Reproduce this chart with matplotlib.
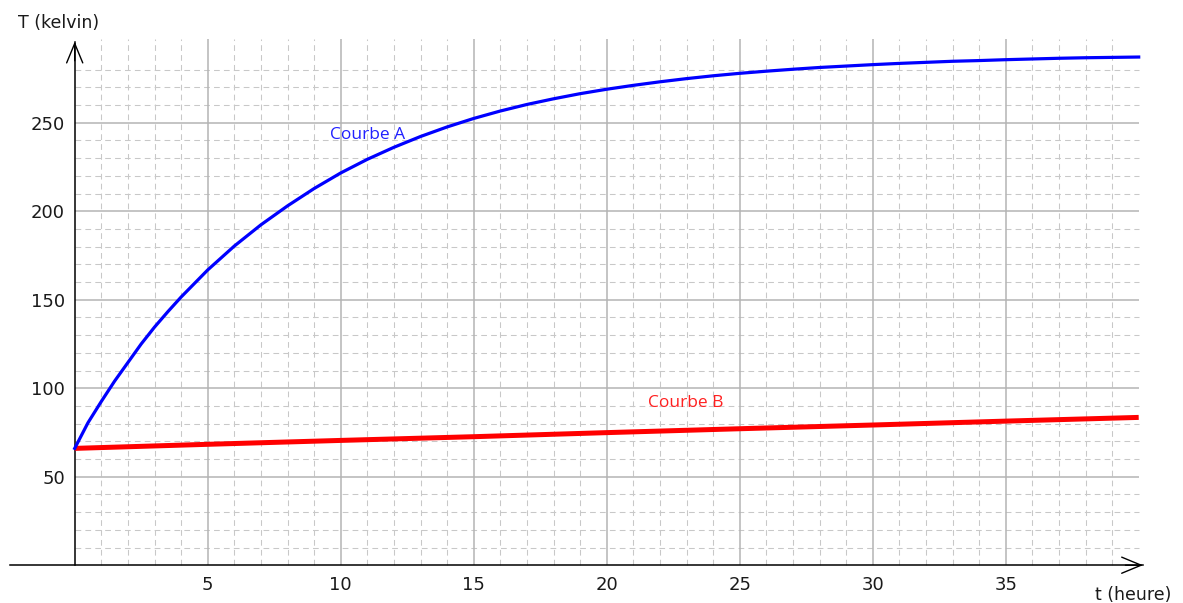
import numpy as np
import matplotlib
matplotlib.use("Agg")
import matplotlib.pyplot as plt

# temps (heure)
t_a = [0, 0.5, 1, 1.5, 2, 2.5, 3, 3.5] + list(range(4, 41))
# Courbe A : T (kelvin)
T_a = [66, 80.5, 92.5, 104, 114.5, 125, 134.5, 143.2,
       151.5, 166.8, 180.3, 192.3, 203, 212.8,
       221.6, 229.3, 236.1, 242.2, 247.6, 252.4, 256.6, 260.3, 263.5, 266.4,
       268.9, 271.1, 273.1, 274.9, 276.5, 277.9, 279.1, 280.2, 281.2, 282.0,
       282.8, 283.5, 284.1, 284.7, 285.1, 285.6, 286.0, 286.4, 286.7, 286.9,
       287.1]

# Courbe B
t_b = [0, 5, 10, 15, 20, 25, 30, 35, 40]
T_b = [66, 68.3, 70.5, 72.6, 74.9, 77.1, 79.2, 81.4, 83.5]

x_ticks = [5, 10, 15, 20, 25, 30, 35]
y_ticks = [50, 100, 150, 200, 250]

W, H = 1183, 603
fig = plt.figure(figsize=(W / 100, H / 100), dpi=100)
ax = fig.add_axes([0, 0, 1, 1])

# echelle : pixels -> donnees
x0_px, sx = 74.7, 26.6
y0_px, sy = 565.2, 1.77
ax.set_xlim(-x0_px / sx, (W - x0_px) / sx)
ax.set_ylim((y0_px - H) / sy, y0_px / sy)

x_end, y_top = 40, 297.3

# quadrillage
major_c = "#b4b4b4"
minor_c = "#c8c8c8"
xm = [v for v in range(1, 40) if v % 5]
ym = [v for v in range(10, 290, 10) if v % 50]
ax.vlines(xm, 0, y_top, colors=minor_c, lw=0.75, linestyles=(0, (5.5, 4)), zorder=1)
ax.hlines(ym, 0, x_end, colors=minor_c, lw=0.75, linestyles=(0, (5.5, 4)), zorder=1)
ax.vlines(x_ticks, 0, y_top, colors=major_c, lw=1.1, zorder=1.5)
ax.hlines(y_ticks, 0, x_end, colors=major_c, lw=1.1, zorder=1.5)

# axes
for s in ["top", "right"]:
    ax.spines[s].set_visible(False)
ax.spines["left"].set_position(("data", 0))
ax.spines["bottom"].set_position(("data", 0))
ax.spines["left"].set_bounds(0, 295.8)
ax.spines["bottom"].set_bounds(-2.43, 40.16)
ax.spines["left"].set_linewidth(1.1)
ax.spines["bottom"].set_linewidth(1.1)

arrow = dict(arrowstyle="->,head_length=1.4,head_width=0.58", lw=1.0,
             color="black", mutation_scale=10, shrinkA=0, shrinkB=0)
ax.annotate("", xy=(0, 295.8), xytext=(0, 285), arrowprops=arrow)
ax.annotate("", xy=(40.16, 0), xytext=(39.5, 0), arrowprops=arrow)

ax.set_xticks(x_ticks)
ax.set_yticks(y_ticks)
ax.tick_params(axis="both", length=0, labelsize=13, colors="#1a1a1a")
ax.tick_params(axis="x", pad=8)
ax.tick_params(axis="y", pad=7)

# courbes
ax.plot(t_a, T_a, color="#0000ff", lw=2.3, zorder=4, solid_joinstyle="round")
ax.plot(t_b, T_b, color="#ff0000", lw=3.6, zorder=3, solid_capstyle="butt")

ax.text(9.6, 240.8, "Courbe A", color="#2020ff", fontsize=12.5,
        family="Open Sans", ha="left", va="baseline")
ax.text(21.55, 89.2, "Courbe B", color="#ff2020", fontsize=12.5,
        family="Open Sans", ha="left", va="baseline")

ax.text(-2.13, 303.5, "T (kelvin)", fontsize=12.5, color="#1a1a1a",
        ha="left", va="baseline")
ax.text(38.36, -19.7, "t (heure)", fontsize=12.5, color="#1a1a1a",
        ha="left", va="baseline")

fig.savefig("out.png", dpi=100)
